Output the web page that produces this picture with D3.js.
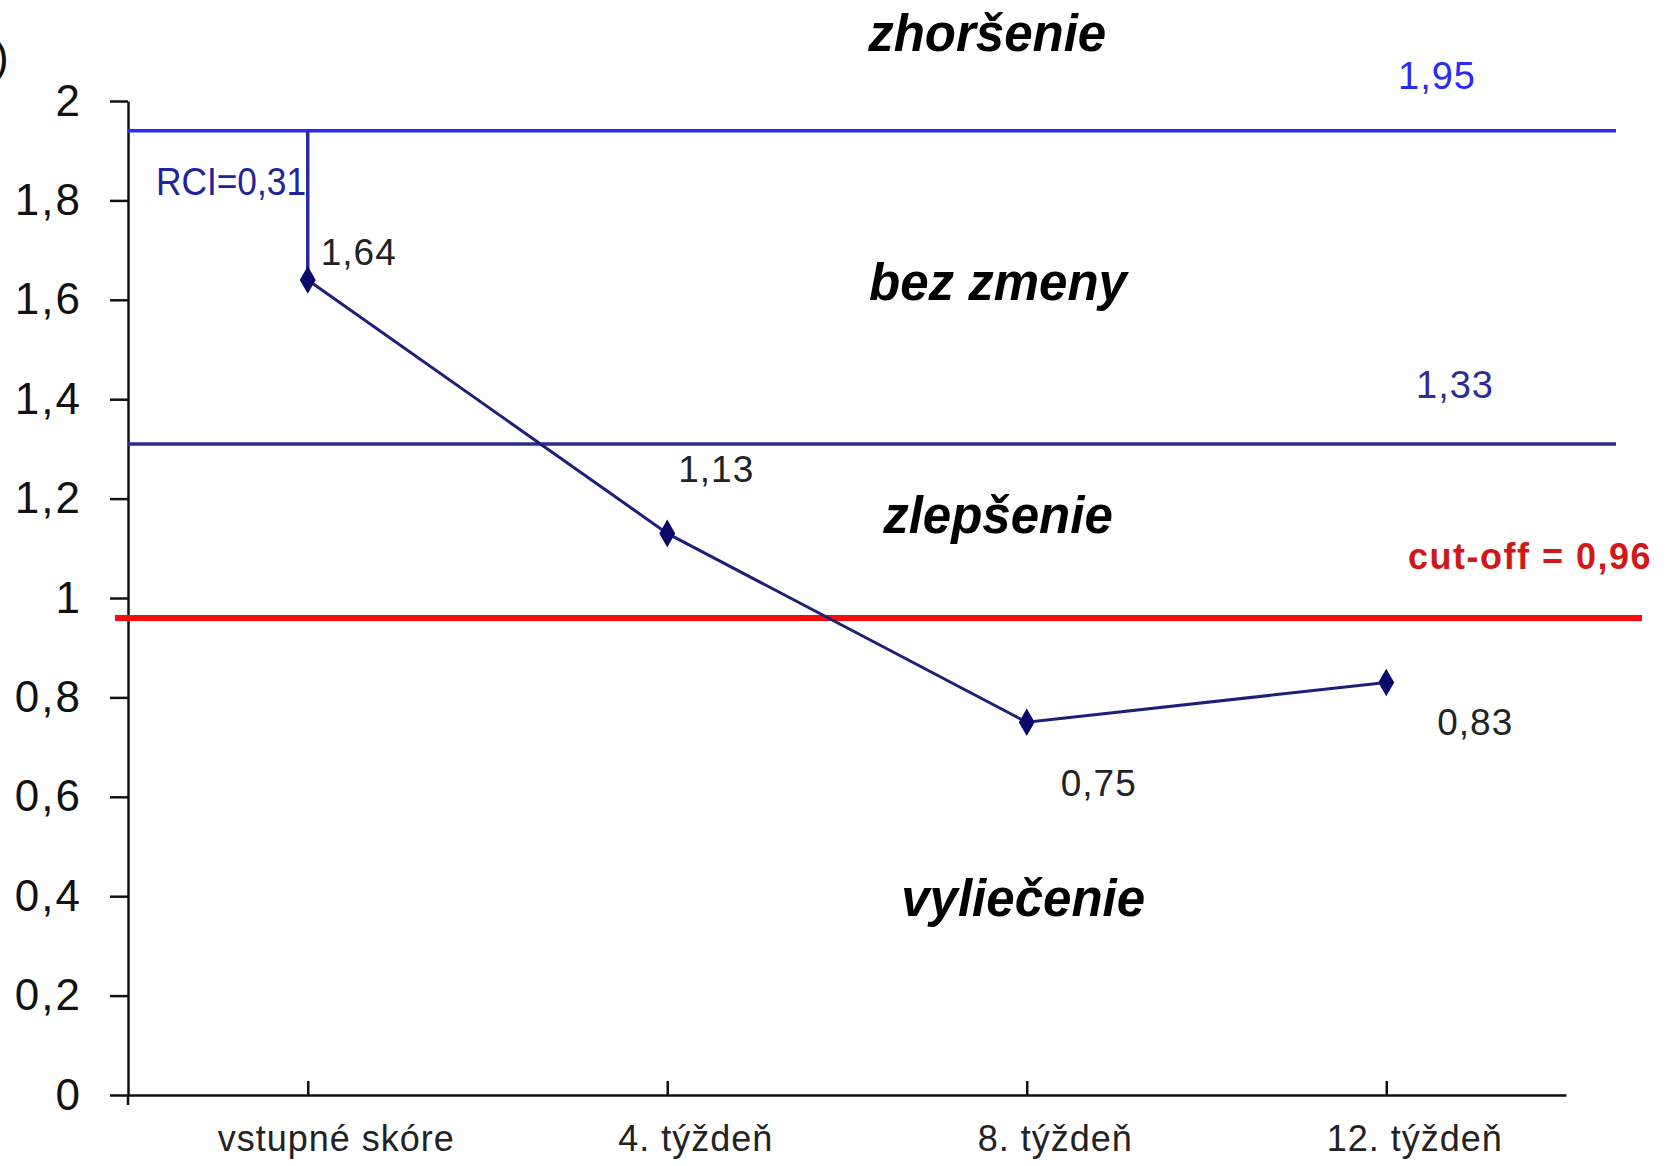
<!DOCTYPE html>
<html>
<head>
<meta charset="utf-8">
<script src="https://cdn.jsdelivr.net/npm/d3@7/dist/d3.min.js"></script>
<style>
  html, body { margin: 0; padding: 0; background: #fff; }
  svg { display: block; }
  text { font-family: "Liberation Sans", Arial, sans-serif; }
</style>
</head>
<body>
<div id="chart"></div>
<script>
(function () {
  // ── Data ──────────────────────────────────────────────────────────────────

  const CATEGORIES   = ['vstupné skóre', '4. týždeň', '8. týždeň', '12. týždeň'];
  const SCORES       = [1.64, 1.13, 0.75, 0.83];
  const SCORE_LABELS = ['1,64', '1,13', '0,75', '0,83'];

  const Y_TICKS       = [0, 0.2, 0.4, 0.6, 0.8, 1, 1.2, 1.4, 1.6, 1.8, 2];
  const Y_TICK_LABELS = ['0', '0,2', '0,4', '0,6', '0,8', '1', '1,2', '1,4', '1,6', '1,8', '2'];

  // horizontal reference lines (as drawn) and their captions
  const REF_VALUES = [1.94, 1.31];
  const REF_LABELS = ['1,95', '1,33'];
  const CUTOFF       = 0.96;
  const CUTOFF_LABEL = 'cut-off = 0,96';
  const RCI_LABEL    = 'RCI=0,31';

  // zone captions: [text, category index position, y value]
  const ZONES = [
    ['zhoršenie',  1.89, 2.10],
    ['bez zmeny',  1.92, 1.60],
    ['zlepšenie',  1.92, 1.13],
    ['vyliečenie', 1.99, 0.36],
  ];

  // label offsets from the point (px), layout only
  const LABEL_DX = [13, 11, 34, 51];
  const LABEL_DY = [-15, -51, 74, 53];

  // ── Setup ─────────────────────────────────────────────────────────────────

  const W = 1670, H = 1166;
  const AX_X = 128, AX_RIGHT = 1566;
  const NAVY = '#1f1f7a';

  const svg = d3.select('#chart').append('svg')
    .attr('width', W).attr('height', H);

  const x = d3.scalePoint().domain(CATEGORIES).range([AX_X, AX_RIGHT]).padding(0.5);
  const xi = d3.scaleLinear().domain([0, CATEGORIES.length - 1])
    .range([x(CATEGORIES[0]), x(CATEGORIES[CATEGORIES.length - 1])]);
  const y = d3.scaleLinear().domain([0, 2]).range([1095, 101]);

  // stray bracket from the cropped figure
  svg.append('text').attr('x', -6).attr('y', 72)
    .attr('font-size', 44).attr('fill', '#111').text(')');

  // ── Axes ──────────────────────────────────────────────────────────────────

  const yAxis = d3.axisLeft(y)
    .tickValues(Y_TICKS)
    .tickFormat(function (d, i) { return Y_TICK_LABELS[i]; })
    .tickSize(18).tickSizeOuter(0).tickPadding(28);

  const gy = svg.append('g').attr('transform', 'translate(' + AX_X + ',0)').call(yAxis);
  gy.select('.domain').attr('stroke', '#111').attr('stroke-width', 2.5);
  gy.selectAll('.tick line').attr('stroke', '#111').attr('stroke-width', 2.5);
  gy.selectAll('.tick text')
    .attr('font-size', 44).attr('fill', '#111')
    .attr('letter-spacing', 2)
    .attr('font-family', '"Liberation Sans", Arial, sans-serif');

  // axis runs a bit below zero
  svg.append('line')
    .attr('x1', AX_X).attr('x2', AX_X)
    .attr('y1', y(0)).attr('y2', y(0) + 10)
    .attr('stroke', '#111').attr('stroke-width', 2.5);

  const xAxis = d3.axisBottom(x).tickSize(-14).tickSizeOuter(0).tickPadding(30);
  const gx = svg.append('g').attr('transform', 'translate(0,' + y(0) + ')').call(xAxis);
  gx.select('.domain').attr('stroke', '#111').attr('stroke-width', 2.5);
  gx.selectAll('.tick line').attr('stroke', '#111').attr('stroke-width', 2.5);
  gx.selectAll('.tick text')
    .attr('font-size', 36).attr('fill', '#222')
    .attr('dx', 28).attr('letter-spacing', 1)
    .attr('font-family', '"Liberation Sans", Arial, sans-serif');

  // ── Reference lines ───────────────────────────────────────────────────────

  const REF_COLORS = ['#2a2aff', '#2e2e8e'];
  svg.append('g').selectAll('line')
    .data(REF_VALUES)
    .join('line')
    .attr('x1', AX_X).attr('x2', 1616)
    .attr('y1', function (d) { return y(d); })
    .attr('y2', function (d) { return y(d); })
    .attr('stroke', function (d, i) { return REF_COLORS[i]; })
    .attr('stroke-width', 3.5);

  const REF_LABEL_POS = [[1398, 1.94 + 0.085], [1416, 1.31 + 0.093]];
  svg.append('g').selectAll('text')
    .data(REF_LABELS)
    .join('text')
    .attr('x', function (d, i) { return REF_LABEL_POS[i][0]; })
    .attr('y', function (d, i) { return y(REF_LABEL_POS[i][1]); })
    .attr('font-size', 38).attr('letter-spacing', 1)
    .attr('fill', function (d, i) { return REF_COLORS[i]; })
    .text(function (d) { return d; });

  // cut-off line
  svg.append('line')
    .attr('x1', 115).attr('x2', 1642)
    .attr('y1', y(CUTOFF)).attr('y2', y(CUTOFF))
    .attr('stroke', '#ff0a0a').attr('stroke-width', 6);

  svg.append('text')
    .attr('x', 1408).attr('y', y(CUTOFF) - 49)
    .attr('font-size', 36).attr('font-weight', 'bold')
    .attr('letter-spacing', 1.5)
    .attr('fill', '#d01818')
    .text(CUTOFF_LABEL);

  // RCI bracket from baseline score up to the upper limit
  svg.append('line')
    .attr('x1', x(CATEGORIES[0])).attr('x2', x(CATEGORIES[0]))
    .attr('y1', y(REF_VALUES[0])).attr('y2', y(SCORES[0]))
    .attr('stroke', '#2a2a9a').attr('stroke-width', 3.5);

  svg.append('text')
    .attr('x', 156).attr('y', 195)
    .attr('font-size', 38).attr('fill', '#22229a')
    .attr('textLength', 150).attr('lengthAdjust', 'spacingAndGlyphs')
    .text(RCI_LABEL);

  // ── Series ────────────────────────────────────────────────────────────────

  const pts = CATEGORIES.map(function (c, i) { return [x(c), y(SCORES[i])]; });

  svg.append('path')
    .attr('d', d3.line()(pts))
    .attr('fill', 'none')
    .attr('stroke', NAVY)
    .attr('stroke-width', 3);

  svg.append('g').selectAll('path')
    .data(pts)
    .join('path')
    .attr('d', d3.symbol(d3.symbolDiamond, 220))
    .attr('transform', function (d) { return 'translate(' + d[0] + ',' + d[1] + ')'; })
    .attr('fill', '#0a0a6a');

  svg.append('g').selectAll('text')
    .data(SCORE_LABELS)
    .join('text')
    .attr('x', function (d, i) { return pts[i][0] + LABEL_DX[i]; })
    .attr('y', function (d, i) { return pts[i][1] + LABEL_DY[i]; })
    .attr('font-size', 37).attr('letter-spacing', 1)
    .attr('fill', '#222')
    .text(function (d) { return d; });

  // ── Zone captions ─────────────────────────────────────────────────────────

  svg.append('g').selectAll('text')
    .data(ZONES)
    .join('text')
    .attr('x', function (d) { return xi(d[1]); })
    .attr('y', function (d) { return y(d[2]); })
    .attr('text-anchor', 'middle')
    .attr('font-size', 51).attr('font-weight', 'bold').attr('font-style', 'italic')
    .attr('fill', '#000')
    .text(function (d) { return d[0]; });
})();
</script>
</body>
</html>
